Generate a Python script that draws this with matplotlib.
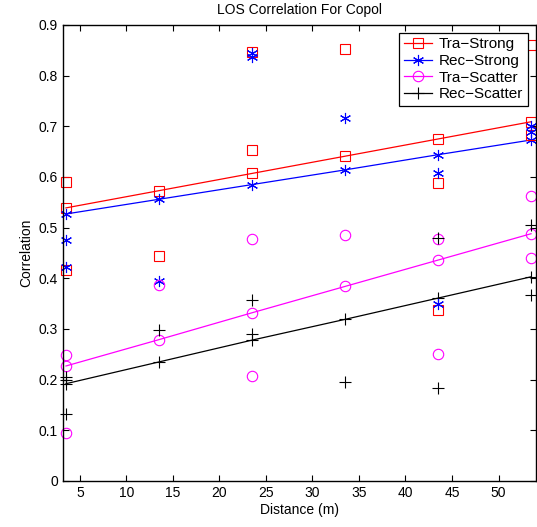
import numpy as np
import matplotlib
matplotlib.use("Agg")
import matplotlib.pyplot as plt

plt.rcParams['font.family'] = ['Liberation Sans', 'DejaVu Sans']

# distances (m)
dist = [3.5, 13.5, 23.5, 33.5, 43.5, 53.5]

# fitted lines (values at each distance)
fit_tra_strong = [0.539, 0.573, 0.607, 0.641, 0.675, 0.709]
fit_rec_strong = [0.527, 0.556, 0.585, 0.614, 0.644, 0.673]
fit_tra_scatter = [0.227, 0.279, 0.332, 0.384, 0.436, 0.488]
fit_rec_scatter = [0.192, 0.235, 0.278, 0.319, 0.361, 0.403]

# raw measurements
tra_strong_x = [3.5, 3.5, 13.5, 23.5, 23.5, 33.5, 43.5, 43.5, 53.5, 53.5]
tra_strong_y = [0.591, 0.416, 0.444, 0.847, 0.654, 0.853, 0.589, 0.337, 0.861, 0.682]
rec_strong_x = [3.5, 3.5, 13.5, 23.5, 23.5, 33.5, 43.5, 43.5, 53.5, 53.5]
rec_strong_y = [0.476, 0.422, 0.394, 0.845, 0.836, 0.717, 0.608, 0.350, 0.700, 0.688]
tra_scatter_x = [3.5, 3.5, 13.5, 23.5, 23.5, 33.5, 43.5, 43.5, 53.5, 53.5]
tra_scatter_y = [0.248, 0.094, 0.386, 0.477, 0.207, 0.485, 0.478, 0.250, 0.562, 0.441]
rec_scatter_x = [3.5, 3.5, 3.5, 13.5, 23.5, 23.5, 33.5, 43.5, 43.5, 53.5, 53.5]
rec_scatter_y = [0.206, 0.199, 0.133, 0.298, 0.358, 0.291, 0.196, 0.479, 0.183, 0.506, 0.368]

asterisk = (6, 2, 0)

fig = plt.figure(figsize=(5.37, 5.27), dpi=100)
ax = fig.add_axes([0.1168, 0.0873, 0.8808, 0.8653])

series = [
    (fit_tra_strong, tra_strong_x, tra_strong_y, 'red', 's', 6.5, 'Tra\u2212Strong'),
    (fit_rec_strong, rec_strong_x, rec_strong_y, 'blue', asterisk, 8, 'Rec\u2212Strong'),
    (fit_tra_scatter, tra_scatter_x, tra_scatter_y, 'magenta', 'o', 7.5, 'Tra\u2212Scatter'),
    (fit_rec_scatter, rec_scatter_x, rec_scatter_y, 'black', '+', 8, 'Rec\u2212Scatter'),
]

for fit, sx, sy, c, m, ms, lab in series:
    ax.plot(dist, fit, color=c, marker=m, markersize=ms, mfc='none', mec=c,
            mew=0.8, lw=0.9, label=lab, clip_on=False)
for fit, sx, sy, c, m, ms, lab in series:
    ax.plot(sx, sy, linestyle='none', marker=m, markersize=ms, mfc='none',
            mec=c, mew=0.8, clip_on=False)

ax.set_xlim(3.15, 54)
ax.set_ylim(0, 0.9)
ax.set_xticks(np.arange(5, 55, 5))
ax.set_yticks(np.arange(0, 0.91, 0.1))
ax.set_yticklabels(['0', '0.1', '0.2', '0.3', '0.4', '0.5', '0.6', '0.7', '0.8', '0.9'])
ax.tick_params(direction='in', top=True, right=True, labelsize=10, length=4, width=0.8)
for s in ax.spines.values():
    s.set_linewidth(1.0)

ax.set_xlabel('Distance (m)', fontsize=10, labelpad=2)
ax.set_ylabel('Correlation', fontsize=10, labelpad=4)
ax.set_title('LOS Correlation For Copol', fontsize=10, pad=8)

leg = ax.legend(loc='upper right', fontsize=11, fancybox=False, framealpha=1,
                edgecolor='black', borderaxespad=0.5, handlelength=1.85,
                labelspacing=0.18, borderpad=0.3, handletextpad=0.45)
leg.get_frame().set_linewidth(0.9)
leg.set_zorder(5)

fig.savefig('out.png', dpi=100)
